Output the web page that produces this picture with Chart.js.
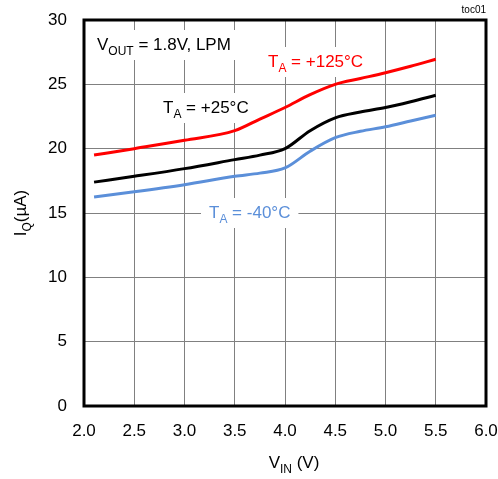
<!DOCTYPE html>
<html>
<head>
<meta charset="utf-8">
<script src="https://cdn.jsdelivr.net/npm/chart.js@4"></script>
<style>
  html, body { margin: 0; padding: 0; background: #fff; }
  #wrap { width: 498px; height: 479px; }
</style>
</head>
<body>
<div id="wrap"><canvas id="chart" width="498" height="479"></canvas></div>
<script>
// values (VIN in V, IQ in uA)
const vin = [2.1, 2.5, 3.0, 3.5, 3.75, 4.0, 4.25, 4.5, 4.75, 5.0, 5.25, 5.5];
const iq125 = [19.5, 20.0, 20.65, 21.4, 22.3, 23.2, 24.2, 25.0, 25.45, 25.9, 26.4, 26.95];
const iq25 = [17.4, 17.85, 18.45, 19.15, 19.5, 20.0, 21.4, 22.4, 22.85, 23.2, 23.65, 24.15];
const iqM40 = [16.25, 16.65, 17.2, 17.85, 18.1, 18.5, 19.8, 20.85, 21.35, 21.7, 22.15, 22.6];

const xTicks = [2.0, 2.5, 3.0, 3.5, 4.0, 4.5, 5.0, 5.5, 6.0];
const yTicks = [0, 5, 10, 15, 20, 25, 30];

const FONT = '"Liberation Sans", Arial, sans-serif';
const BLUE = '#5b8fd9';

function toPoints(ys) {
  return vin.map((x, i) => ({ x: x, y: ys[i] }));
}

// text with a subscript part: parts = [[text, isSub], ...]
function drawSubText(ctx, parts, x, y, size, color) {
  ctx.fillStyle = color;
  ctx.textBaseline = 'alphabetic';
  ctx.textAlign = 'left';
  let cx = x;
  for (const [t, sub] of parts) {
    ctx.font = (sub ? Math.round(size * 0.72) : size) + 'px ' + FONT;
    ctx.fillText(t, cx, sub ? y + size * 0.3 : y);
    cx += ctx.measureText(t).width;
  }
  return cx - x;
}

function measureSub(ctx, parts, size) {
  let w = 0;
  for (const [t, sub] of parts) {
    ctx.font = (sub ? Math.round(size * 0.72) : size) + 'px ' + FONT;
    w += ctx.measureText(t).width;
  }
  return w;
}

const notes = [
  { parts: [['V', false], ['OUT', true], [' = 1.8V, LPM', false]], x: 97, y: 50, color: '#000' },
  { parts: [['T', false], ['A', true], [' = +125°C', false]], x: 268, y: 67, color: '#ff0000' },
  { parts: [['T', false], ['A', true], [' = +25°C', false]], x: 163, y: 113, color: '#000' },
  { parts: [['T', false], ['A', true], [' = -40°C', false]], x: 209, y: 218, color: BLUE }
];

const annotatePlugin = {
  id: 'annotate',
  beforeDatasetsDraw(chart) {
    const ctx = chart.ctx;
    ctx.save();
    for (const n of notes) {
      const w = measureSub(ctx, n.parts, 17);
      ctx.fillStyle = '#fff';
      ctx.fillRect(n.x - 8, n.y - 20, w + 16, 30);
    }
    ctx.restore();
  },
  afterDatasetsDraw(chart) {
    const ctx = chart.ctx;
    const a = chart.chartArea;
    ctx.save();
    for (const n of notes) drawSubText(ctx, n.parts, n.x, n.y, 17, n.color);

    // frame
    ctx.strokeStyle = '#000';
    ctx.lineWidth = 3;
    ctx.strokeRect(a.left, a.top, a.right - a.left, a.bottom - a.top);

    // axis titles
    const xt = [['V', false], ['IN', true], [' (V)', false]];
    const xw = measureSub(ctx, xt, 17);
    drawSubText(ctx, xt, 294 - xw / 2, 468, 17, '#000');
    const yt = [['I', false], ['Q', true], ['(µA)', false]];
    ctx.translate(26, (a.top + a.bottom) / 2);
    ctx.rotate(-Math.PI / 2);
    const yw = measureSub(ctx, yt, 17);
    drawSubText(ctx, yt, -yw / 2, 0, 17, '#000');
    ctx.restore();

    ctx.save();
    ctx.fillStyle = '#000';
    ctx.font = '10px ' + FONT;
    ctx.textAlign = 'right';
    ctx.fillText('toc01', a.right, 13);
    ctx.restore();
  }
};

new Chart(document.getElementById('chart'), {
  type: 'line',
  data: {
    datasets: [
      { label: 'TA = +125°C', data: toPoints(iq125), borderColor: '#ff0000', borderWidth: 3 },
      { label: 'TA = +25°C', data: toPoints(iq25), borderColor: '#000000', borderWidth: 3 },
      { label: 'TA = -40°C', data: toPoints(iqM40), borderColor: BLUE, borderWidth: 3 }
    ]
  },
  options: {
    responsive: false,
    animation: false,
    devicePixelRatio: 1,
    layout: { padding: { left: 0, top: 20, right: 0, bottom: 0 } },
    elements: {
      point: { radius: 0 },
      line: { cubicInterpolationMode: 'monotone', fill: false }
    },
    plugins: { legend: { display: false }, tooltip: { enabled: false } },
    scales: {
      x: {
        type: 'linear',
        min: 2, max: 6,
        afterFit(axis) { axis.height = 73; axis.paddingRight = 12; axis.paddingLeft = 0; },
        afterBuildTicks(axis) { axis.ticks = xTicks.map(v => ({ value: v })); },
        grid: { color: '#808080', lineWidth: 1, drawTicks: false },
        border: { display: false },
        ticks: {
          color: '#000', padding: 15,
          font: { family: FONT, size: 17 },
          callback: v => v.toFixed(1)
        }
      },
      y: {
        min: 0, max: 30,
        afterFit(axis) { axis.width = 84; axis.paddingTop = 0; axis.paddingBottom = 0; },
        afterBuildTicks(axis) { axis.ticks = yTicks.map(v => ({ value: v })); },
        grid: { color: '#808080', lineWidth: 1, drawTicks: false },
        border: { display: false },
        ticks: {
          color: '#000', padding: 17,
          font: { family: FONT, size: 17 }
        }
      }
    }
  },
  plugins: [annotatePlugin]
});
</script>
</body>
</html>
